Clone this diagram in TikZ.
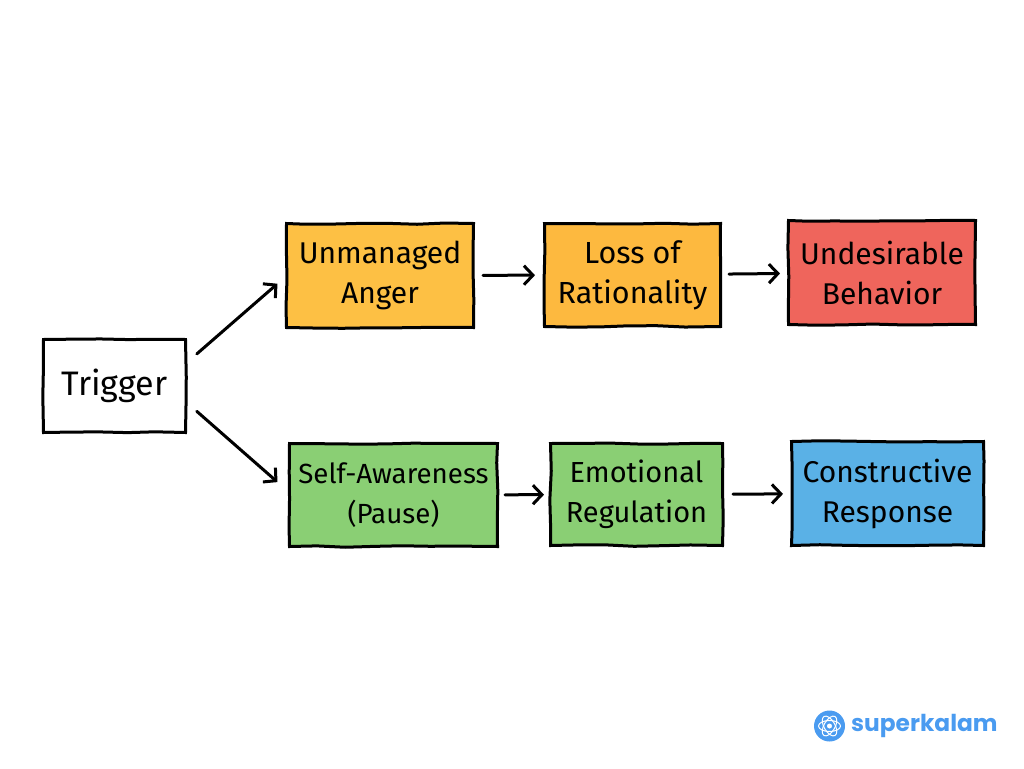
\documentclass[tikz,border=0pt]{standalone}
\usepackage{fontspec}
\setmainfont{Fira Sans}
\newfontfamily\brandfont{Poppins}
\usepackage{tikz}
\usetikzlibrary{positioning,arrows.meta,decorations.pathmorphing}
\definecolor{angerbox}{HTML}{FDC044}
\definecolor{lossbox}{HTML}{FDB93F}
\definecolor{badbox}{HTML}{EF655C}
\definecolor{calmbox}{HTML}{8ACF74}
\definecolor{goodbox}{HTML}{5AB1E6}
\definecolor{brandblue}{HTML}{4A9BF0}
\begin{document}
\begin{tikzpicture}[
    x=1pt, y=-1pt,
    every node/.style={font=\fontsize{30}{40}\selectfont},
    flowbox/.style={
        rectangle,
        draw=black,
        line width=3pt,
        align=center,
        inner sep=0pt,
        anchor=north west,
        decorate,
        decoration={random steps, segment length=28pt, amplitude=0.8pt}
    },
    flowarrow/.style={-{Straight Barb[length=9pt,width=19pt,line width=3pt]}, line width=3pt, line cap=round}
]

% Page size
\useasboundingbox (0,0) rectangle (1024,768);

% Start
\node[flowbox, minimum width=142pt, minimum height=93pt, font=\fontsize{34}{40}\selectfont] (trigger) at (42,338) {Trigger};

% Upper path
\node[flowbox, fill=angerbox, minimum width=187pt, minimum height=104pt] (anger) at (285,222) {Unmanaged\\Anger};
\node[flowbox, fill=lossbox, minimum width=176pt, minimum height=103pt, font=\fontsize{30.5}{40}\selectfont] (loss) at (543,222) {Loss of\\Rationality};
\node[flowbox, fill=badbox, minimum width=187pt, minimum height=104pt] (behavior) at (787,219) {Undesirable\\Behavior};

% Lower path
\node[flowbox, fill=calmbox, minimum width=208pt, minimum height=103pt, font=\fontsize{27.7}{40}\selectfont] (pause) at (288,442) {Self-Awareness\\(Pause)};
\node[flowbox, fill=calmbox, minimum width=172pt, minimum height=102pt, font=\fontsize{29}{40}\selectfont] (regulation) at (549,442) {Emotional\\Regulation};
\node[flowbox, fill=goodbox, minimum width=192pt, minimum height=104pt] (response) at (790,440) {Constructive\\Response};

% Arrows
\draw[flowarrow, shorten <=13pt, shorten >=10pt] (trigger.18) -- (anger.181);
\draw[flowarrow, shorten <=13pt, shorten >=14pt] (trigger.-13) -- (pause.178);
\draw[flowarrow, shorten <=8pt, shorten >=8pt] (anger) -- (loss);
\draw[flowarrow, shorten <=7pt, shorten >=7pt] (loss) -- (behavior);
\draw[flowarrow, shorten <=6pt, shorten >=5pt] (pause) -- (regulation);
\draw[flowarrow, shorten <=9pt, shorten >=7pt] (regulation) -- (response);

% Logo
\node[font=\brandfont\fontsize{23.3}{26}\selectfont\bfseries, text=brandblue, anchor=west, inner sep=0pt] (brand) at (851,726) {superkalam};
\node[circle, fill=brandblue, minimum size=31pt, inner sep=0pt] (logo) at (829.5,726) {};
\foreach \tilt in {0,60,120} {
    \draw[white, line width=1pt, rotate around={\tilt:(logo.center)}] (logo.center) ellipse (11 and 5.5);
}
\fill[white] (logo.center) circle (2.5);

\end{tikzpicture}
\end{document}
